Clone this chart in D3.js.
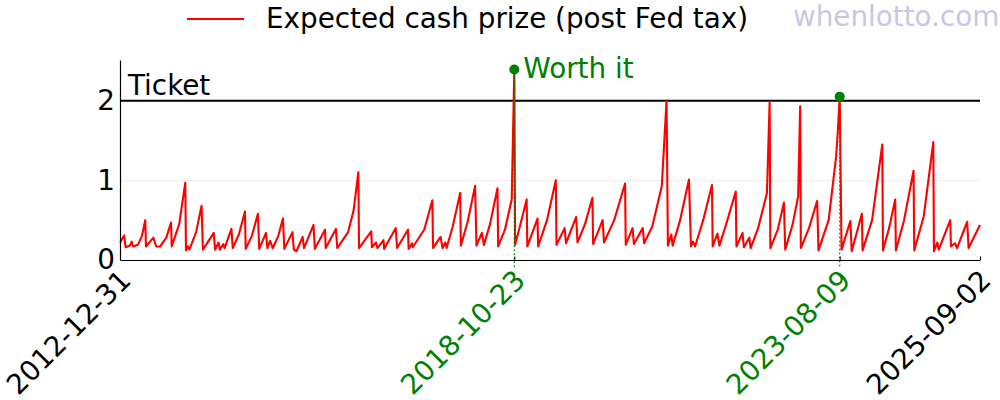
<!DOCTYPE html>
<html>
<head>
<meta charset="utf-8">
<script src="https://cdn.jsdelivr.net/npm/d3@7"></script>
<style>
  body { margin: 0; background: #fff; }
  text { font-family: "DejaVu Sans", sans-serif; }
</style>
</head>
<body>
<div class="canvas"></div>
<script>

// expected cash prize per $ ticket as [decimal year, value]
const prizeSeries = [
    [2013.00,0.22],[2013.06,0.31],[2013.08,0.16],[2013.14,0.18],[2013.17,0.23],[2013.19,0.17],[2013.26,0.19],
    [2013.32,0.30],[2013.37,0.50],[2013.38,0.17],[2013.49,0.28],[2013.53,0.17],[2013.59,0.17],[2013.68,0.28],
    [2013.75,0.47],[2013.76,0.17],[2013.87,0.45],[2013.96,0.97],[2013.97,0.12],[2014.00,0.17],[2014.02,0.13],
    [2014.12,0.35],[2014.20,0.68],[2014.22,0.13],[2014.38,0.34],[2014.40,0.13],[2014.45,0.22],[2014.47,0.13],
    [2014.52,0.20],[2014.54,0.15],[2014.64,0.39],[2014.66,0.15],[2014.75,0.32],[2014.84,0.61],[2014.85,0.14],
    [2014.94,0.30],[2015.03,0.58],[2015.05,0.14],[2015.15,0.34],[2015.17,0.15],[2015.21,0.24],[2015.25,0.15],
    [2015.33,0.30],[2015.40,0.52],[2015.42,0.14],[2015.54,0.35],[2015.56,0.13],[2015.60,0.11],[2015.69,0.29],
    [2015.71,0.15],[2015.85,0.44],[2015.87,0.14],[2016.02,0.38],[2016.03,0.15],[2016.18,0.39],[2016.20,0.15],
    [2016.36,0.35],[2016.44,0.62],[2016.51,1.10],[2016.52,0.15],[2016.70,0.36],[2016.71,0.16],[2016.77,0.22],
    [2016.79,0.15],[2016.88,0.25],[2016.89,0.14],[2017.06,0.40],[2017.08,0.15],[2017.24,0.38],[2017.25,0.14],
    [2017.30,0.21],[2017.31,0.16],[2017.48,0.38],[2017.60,0.75],[2017.61,0.15],[2017.72,0.29],[2017.75,0.15],
    [2017.79,0.22],[2017.81,0.15],[2017.90,0.42],[2018.01,0.84],[2018.02,0.18],[2018.12,0.48],[2018.23,0.93],
    [2018.25,0.18],[2018.33,0.34],[2018.36,0.19],[2018.45,0.45],[2018.56,0.90],[2018.57,0.17],[2018.67,0.38],
    [2018.77,0.76],[2018.808,2.39],[2018.82,0.19],[2018.89,0.42],[2018.99,0.76],[2019.00,0.17],[2019.15,0.52],
    [2019.16,0.17],[2019.29,0.50],[2019.42,1.00],[2019.43,0.19],[2019.55,0.40],[2019.57,0.21],[2019.72,0.54],
    [2019.74,0.22],[2019.85,0.45],[2019.96,0.78],[2019.97,0.20],[2020.11,0.50],[2020.13,0.22],[2020.28,0.50],
    [2020.44,0.96],[2020.45,0.19],[2020.55,0.40],[2020.57,0.20],[2020.70,0.40],[2020.72,0.21],[2020.84,0.42],
    [2020.98,0.93],[2021.05,2.00],[2021.07,0.18],[2021.12,0.32],[2021.14,0.18],[2021.25,0.50],[2021.38,1.01],
    [2021.41,0.17],[2021.44,0.23],[2021.47,0.17],[2021.59,0.50],[2021.72,0.94],[2021.73,0.17],[2021.80,0.33],
    [2021.83,0.18],[2021.94,0.48],[2022.07,0.86],[2022.08,0.17],[2022.17,0.34],[2022.19,0.16],[2022.27,0.28],
    [2022.29,0.15],[2022.40,0.40],[2022.53,0.84],[2022.57,1.99],[2022.58,0.15],[2022.69,0.38],[2022.78,0.72],
    [2022.80,0.13],[2022.91,0.45],[2022.99,0.80],[2023.02,1.93],[2023.03,0.15],[2023.15,0.40],[2023.27,0.74],
    [2023.29,0.12],[2023.44,0.50],[2023.55,1.30],[2023.58,1.68],[2023.603,2.05],[2023.63,0.13],[2023.76,0.49],
    [2023.78,0.11],[2023.93,0.58],[2023.94,0.12],[2024.08,0.50],[2024.23,1.45],[2024.24,0.12],[2024.33,0.40],
    [2024.42,0.76],[2024.43,0.12],[2024.55,0.50],[2024.69,1.12],[2024.70,0.12],[2024.84,0.55],[2024.98,1.48],
    [2024.99,0.11],[2025.04,0.22],[2025.06,0.13],[2025.23,0.50],[2025.24,0.17],[2025.30,0.21],[2025.33,0.15],
    [2025.48,0.48],[2025.50,0.15],[2025.668,0.44]
];

const tickDates = ['2012-12-31', '2018-10-23', '2023-08-09', '2025-09-02'];
const yTicks = [0, 1, 2];
const ticketPrice = 2;
const worthDates = ['2018-10-23', '2023-08-09'];
const worthValues = [2.39, 2.05];
const legendLabel = 'Expected cash prize (post Fed tax)';

const fontSize = '27.8px';
const green = '#008000';

const svg = d3.select('.canvas')
    .append('svg')
    .attr('width', 1000)
    .attr('height', 400);

const margin = { top: 60, right: 20, bottom: 140, left: 120 };
const graphWidth = 1000 - margin.left - margin.right;
const graphHeight = 400 - margin.top - margin.bottom;

const parseDate = d3.timeParse('%Y-%m-%d');

// decimal year -> Date
const yearToDate = yr => {
    const y0 = Math.floor(yr);
    const a = new Date(y0, 0, 1), b = new Date(y0 + 1, 0, 1);
    return new Date(+a + (yr - y0) * (b - a));
};

const x = d3.scaleTime()
    .domain([parseDate(tickDates[0]), parseDate(tickDates[tickDates.length - 1])])
    .range([0, graphWidth]);

const y = d3.scaleLinear()
    .domain([0, 2.51])
    .range([graphHeight, 0]);

const graph = svg.append('g')
    .attr('transform', `translate(${margin.left}, ${margin.top})`);

// light grid
graph.selectAll('line.grid')
    .data(yTicks)
    .enter().append('line')
    .attr('class', 'grid')
    .attr('x1', 0).attr('x2', graphWidth)
    .attr('y1', d => y(d)).attr('y2', d => y(d))
    .attr('stroke', '#ebebeb')
    .attr('stroke-width', 1);

// ticket price line
graph.append('line')
    .attr('x1', 0).attr('x2', graphWidth)
    .attr('y1', y(ticketPrice)).attr('y2', y(ticketPrice))
    .attr('stroke', 'black')
    .attr('stroke-width', 2);

graph.append('text')
    .attr('x', 8)
    .attr('y', y(ticketPrice) - 6)
    .attr('font-size', fontSize)
    .attr('fill', 'black')
    .text('Ticket');

// prize line
const line = d3.line()
    .x(d => x(yearToDate(d[0])))
    .y(d => y(d[1]));

graph.append('path')
    .datum(prizeSeries)
    .attr('d', line)
    .attr('fill', 'none')
    .attr('stroke', 'red')
    .attr('stroke-width', 2.1)
    .attr('stroke-linejoin', 'round');

// worth-it markers
const worth = worthDates.map((d, i) => ({ date: parseDate(d), value: worthValues[i] }));

graph.selectAll('line.worth')
    .data(worth)
    .enter().append('line')
    .attr('class', 'worth')
    .attr('x1', d => x(d.date)).attr('x2', d => x(d.date))
    .attr('y1', d => y(d.value)).attr('y2', graphHeight + 8)
    .attr('stroke', green)
    .attr('stroke-width', 1.3)
    .attr('stroke-dasharray', '1.5,2.5');

graph.selectAll('circle')
    .data(worth)
    .enter().append('circle')
    .attr('cx', d => x(d.date))
    .attr('cy', d => y(d.value))
    .attr('r', 5)
    .attr('fill', green);

graph.append('text')
    .attr('x', x(worth[0].date) + 9)
    .attr('y', y(worth[0].value) + 8)
    .attr('font-size', fontSize)
    .attr('fill', green)
    .text('Worth it');

// axes
const xAxisGroup = graph.append('g')
    .attr('transform', `translate(0, ${graphHeight})`);
const yAxisGroup = graph.append('g');

const xAxis = d3.axisBottom(x)
    .tickValues(tickDates.map(parseDate))
    .tickSizeInner(-3.5)
    .tickSizeOuter(0)
    .tickFormat(d3.timeFormat('%Y-%m-%d'));

const yAxis = d3.axisLeft(y)
    .tickValues(yTicks)
    .tickSize(0)
    .tickPadding(5)
    .tickFormat(d3.format('d'));

xAxisGroup.call(xAxis);
yAxisGroup.call(yAxis);

[xAxisGroup, yAxisGroup].forEach(g => {
    g.select('.domain').attr('stroke', 'black').attr('stroke-width', 1.2);
    g.selectAll('.tick line').attr('stroke', 'black');
    g.selectAll('text')
        .attr('font-family', '"DejaVu Sans", sans-serif')
        .attr('font-size', fontSize)
        .attr('fill', 'black');
});

xAxisGroup.selectAll('text')
    .attr('x', 0)
    .attr('y', 0)
    .attr('dy', 0)
    .attr('text-anchor', 'end')
    .attr('transform', 'translate(12, 22) rotate(-45)')
    .attr('fill', d => worthDates.includes(d3.timeFormat('%Y-%m-%d')(d)) ? green : 'black');

// legend
svg.append('line')
    .attr('x1', 187).attr('x2', 244)
    .attr('y1', 19).attr('y2', 19)
    .attr('stroke', 'red')
    .attr('stroke-width', 2.1);

svg.append('text')
    .attr('x', 266)
    .attr('y', 28)
    .attr('font-size', fontSize)
    .attr('fill', 'black')
    .text(legendLabel);

// watermark
svg.append('text')
    .attr('x', 793)
    .attr('y', 26)
    .attr('font-size', fontSize)
    .attr('fill', 'rgb(200,200,228)')
    .text('whenlotto.com');

</script>
</body>
</html>
